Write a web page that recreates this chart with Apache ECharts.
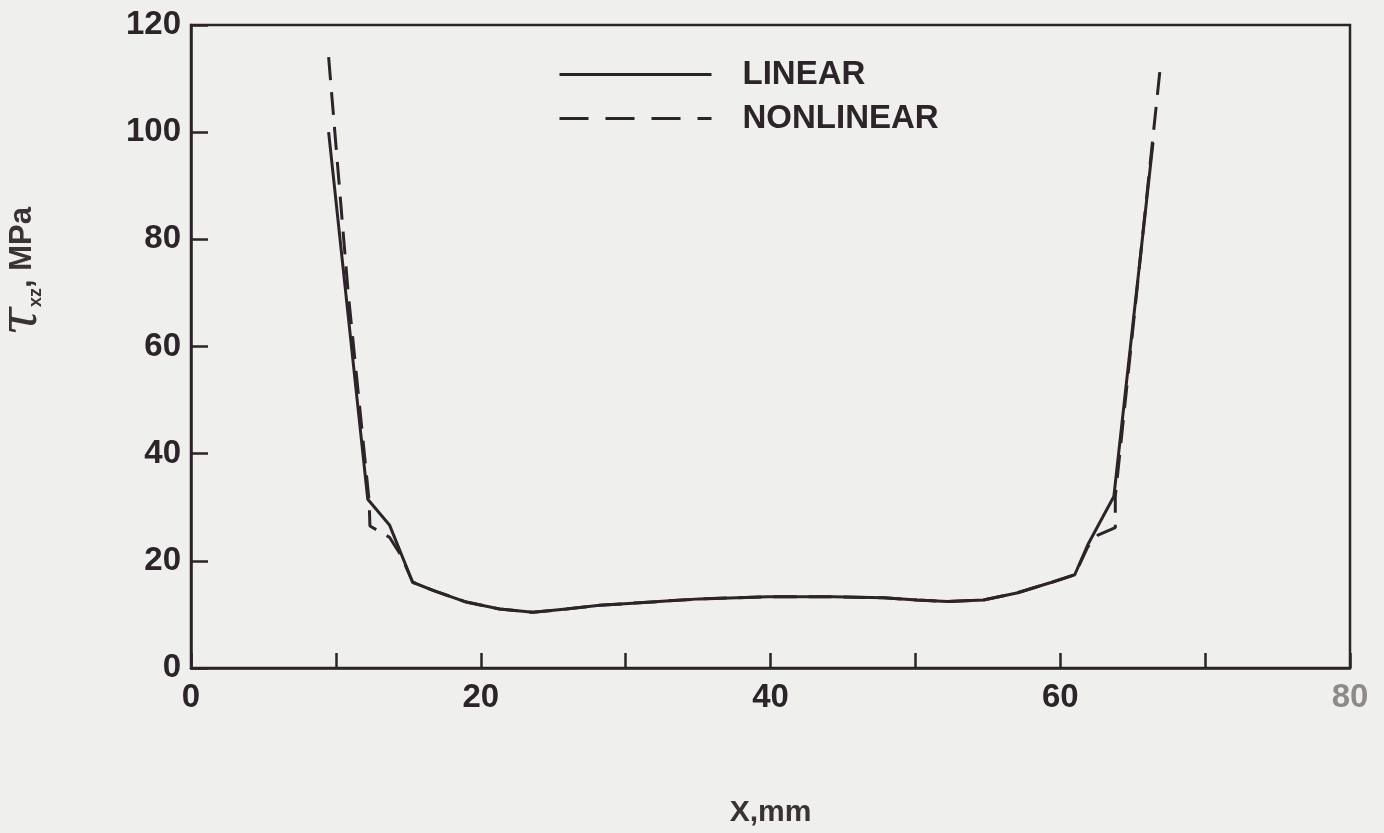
<!DOCTYPE html>
<html>
<head>
<meta charset="utf-8">
<script src="https://cdn.jsdelivr.net/npm/echarts@6/dist/echarts.min.js"></script>
<style>
  html, body { margin: 0; padding: 0; background: #efefed; }
  #chart { width: 1384px; height: 833px; }
</style>
</head>
<body>
<div id="chart"></div>
<script>
// Shear stress tau_xz along the joint, linear vs nonlinear analysis
const seriesNames = ['LINEAR', 'NONLINEAR'];

// [x (mm), tau_xz (MPa)]
const linearData = [
  [9.5, 100], [12.2, 31.5], [13.7, 26.7], [15.3, 16], [16.7, 14.5],
  [19.0, 12.3], [21.3, 11.0], [23.6, 10.4], [25.9, 11.0], [28.2, 11.7],
  [30.5, 12.1], [32.8, 12.5], [35.1, 12.9], [39.8, 13.3], [44.3, 13.3],
  [47.8, 13.1], [50.1, 12.7], [52.2, 12.4], [54.7, 12.7], [57.0, 14.0],
  [59.3, 15.9], [61.0, 17.4], [61.9, 23.0], [62.7, 27.0], [63.7, 32.0],
  [66.4, 98]
];

const nonlinearData = [
  [9.5, 114], [10.85, 70], [12.3, 31], [12.35, 26.5], [13.7, 24.4],
  [14.5, 21], [15.3, 16], [16.7, 14.5], [19.0, 12.3], [21.3, 11.0],
  [23.6, 10.4], [25.9, 11.0], [28.2, 11.7], [30.5, 12.1], [32.8, 12.5],
  [35.1, 12.9], [39.8, 13.3], [44.3, 13.3], [47.8, 13.1], [50.1, 12.7],
  [52.2, 12.4], [54.7, 12.7], [57.0, 14.0], [59.3, 15.9], [61.0, 17.4],
  [61.9, 22.6], [62.6, 24.8], [63.8, 26.2], [63.8, 32.0], [66.9, 112]
];

const xLabelValues = [0, 20, 40, 60, 80];
const yLabelValues = [0, 20, 40, 60, 80, 100, 120];

const ink = '#2b2428';
const fontFamily = '"Liberation Sans", Arial, Helvetica, sans-serif';

const chart = echarts.init(document.getElementById('chart'), null, { renderer: 'canvas' });

chart.setOption({
  backgroundColor: '#efefed',
  animation: false,
  grid: {
    left: 191, top: 25, right: 34, bottom: 165,
    outerBoundsMode: 'none', containLabel: false,
    show: true, borderColor: ink, borderWidth: 2.5, backgroundColor: 'transparent'
  },
  legend: {
    orient: 'vertical',
    left: 553, top: 53,
    itemWidth: 152, itemHeight: 30, itemGap: 11,
    itemStyle: { opacity: 0 },
    lineStyle: { width: 3, color: ink },
    textStyle: {
      color: ink, fontFamily: fontFamily, fontWeight: 'bold', fontSize: 33,
      padding: [0, 0, 0, 26]
    },
    data: [
      { name: seriesNames[0], itemStyle: { opacity: 0 } },
      { name: seriesNames[1], itemStyle: { opacity: 0 }, lineStyle: { type: [29, 17], width: 3 } }
    ]
  },
  xAxis: {
    type: 'value', min: 0, max: 80, interval: 10,
    name: 'X,mm', nameLocation: 'middle', nameGap: 130,
    nameTextStyle: { color: '#3a3336', fontFamily: fontFamily, fontWeight: 'bold', fontSize: 30 },
    axisLine: { show: true, lineStyle: { color: ink, width: 2.5 } },
    axisTick: { show: true, inside: true, length: 15, lineStyle: { color: ink, width: 2.5 } },
    splitLine: { show: false },
    axisLabel: {
      margin: 13, color: ink, fontFamily: fontFamily, fontWeight: 'bold', fontSize: 33,
      formatter: function (v) {
        if (xLabelValues.indexOf(v) < 0) return '';
        return v === 80 ? '{g|80}' : String(v);
      },
      rich: { g: { color: '#8e8a8c', fontFamily: fontFamily, fontWeight: 'bold', fontSize: 33 } }
    }
  },
  yAxis: {
    type: 'value', min: 0, max: 120, interval: 20,
    name: '{t|τ}{s|xz}{n|, MPa}',
    nameLocation: 'middle', nameRotate: 90, nameGap: 146,
    nameTextStyle: {
      padding: [0, 0, 0, 150],
      rich: {
        t: { fontFamily: '"DejaVu Serif", serif', fontStyle: 'italic', fontSize: 52, color: '#3a3336', lineHeight: 46 },
        s: { fontFamily: fontFamily, fontWeight: 'bold', fontSize: 18, color: '#3a3336', verticalAlign: 'bottom', lineHeight: 46 },
        n: { fontFamily: fontFamily, fontWeight: 'bold', fontSize: 31, color: '#3a3336', lineHeight: 46 }
      }
    },
    axisLine: { show: true, lineStyle: { color: ink, width: 2.5 } },
    axisTick: { show: true, inside: true, length: 17, lineStyle: { color: ink, width: 2.5 } },
    splitLine: { show: false },
    axisLabel: {
      margin: 10, color: ink, fontFamily: fontFamily, fontWeight: 'bold', fontSize: 33,
      formatter: function (v) { return yLabelValues.indexOf(v) >= 0 ? String(v) : ''; }
    }
  },
  series: [
    {
      name: seriesNames[0], type: 'line', data: linearData,
      showSymbol: false, symbol: 'none', smooth: false,
      lineStyle: { color: ink, width: 3, type: 'solid' },
      itemStyle: { color: ink },
      z: 2
    },
    {
      name: seriesNames[1], type: 'line', data: nonlinearData,
      showSymbol: false, symbol: 'none', smooth: false,
      lineStyle: { color: ink, width: 3, type: [23, 12] },
      itemStyle: { color: ink },
      z: 3
    }
  ]
});
</script>
</body>
</html>
